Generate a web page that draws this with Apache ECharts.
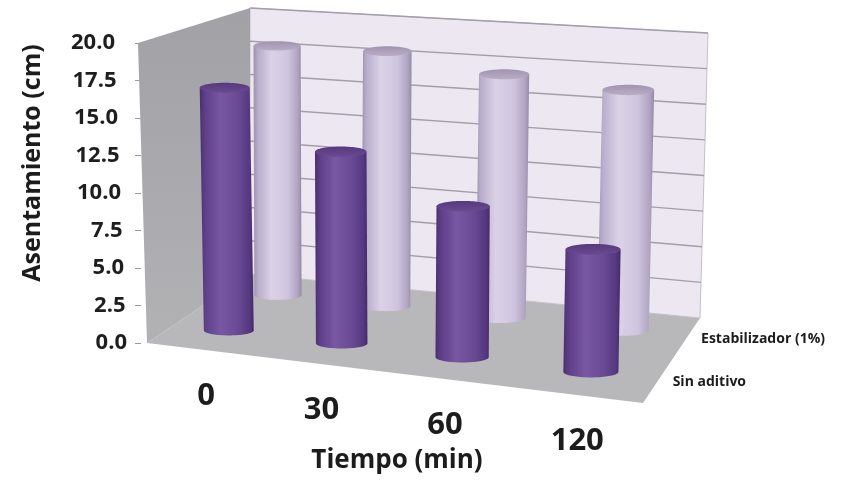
<!DOCTYPE html>
<html>
<head>
<meta charset="utf-8">
<script src="https://cdn.jsdelivr.net/npm/echarts@6/dist/echarts.min.js"></script>
<style>
  html, body { margin: 0; padding: 0; background: #ffffff; }
  #chart { width: 848px; height: 485px; }
</style>
</head>
<body>
<div id="chart"></div>
<script>
// ---- data ----
const categories = ['0', '30', '60', '120'];
const seriesNames = ['Sin aditivo', 'Estabilizador (1%)'];
const sinAditivo = [16.5, 12.8, 9.9, 7.9];
const estabilizador = [18.0, 18.1, 17.0, 16.5];
const yTicks = [0, 2.5, 5, 7.5, 10, 12.5, 15, 17.5, 20];
const yAxisTitle = 'Asentamiento (cm)';
const xAxisTitle = 'Tiempo (min)';

// ---- 3D box layout ----
// floor corners on screen: front-left, front-right, back-right, back-left
const FLOOR = [[147, 343], [643, 403], [700, 318], [250, 274]];
// vertical scale relative to the front-left edge, and lean (px per unit) at those corners
const VSCALE = [1, 16.1 / 15, 14.25 / 15, 13.3 / 15];
const LEAN = [-0.45, 0.35, 0.4, 0];
// depth position of each series row (0 = front, 1 = back)
const ROW_W = [0.25, 0.75];
const R0 = 25.3;
const FONT = 'Open Sans';

function makeHomography(q) {
  const [x0, y0] = q[0], [x1, y1] = q[1], [x2, y2] = q[2], [x3, y3] = q[3];
  const dx1 = x1 - x2, dx2 = x3 - x2, dx3 = x0 - x1 + x2 - x3;
  const dy1 = y1 - y2, dy2 = y3 - y2, dy3 = y0 - y1 + y2 - y3;
  const det = dx1 * dy2 - dx2 * dy1;
  const g = (dx3 * dy2 - dx2 * dy3) / det;
  const h = (dx1 * dy3 - dx3 * dy1) / det;
  return { a: x1 - x0 + g * x1, b: x3 - x0 + h * x3, c: x0,
           d: y1 - y0 + g * y1, e: y3 - y0 + h * y3, f: y0, g, h };
}
const H = makeHomography(FLOOR);

function den(u, w) { return H.g * u + H.h * w + 1; }
function floorPt(u, w) {
  const k = den(u, w);
  return [(H.a * u + H.b * w + H.c) / k, (H.d * u + H.e * w + H.f) / k];
}
function bilerp(arr, u, w) {
  return arr[0] * (1 - u) * (1 - w) + arr[1] * u * (1 - w) + arr[2] * u * w + arr[3] * (1 - u) * w;
}
// point at category position u, depth w and value v, using the value axis scale
function project(api, u, w, v) {
  const p = floorPt(u, w);
  const dy = api.coord([0, v])[1] - api.coord([0, 0])[1];
  return [p[0] + bilerp(LEAN, u, w) * v, p[1] + dy * bilerp(VSCALE, u, w)];
}
function catU(params, api, idx) {
  const cs = params.coordSys;
  return (api.coord([idx, 0])[0] - cs.x) / cs.width;
}

const LG = echarts.graphic.LinearGradient;
const PALETTES = [
  { // dark purple
    body: [[0, '#4b2f70'], [0.1, '#5e3f88'], [0.38, '#7857a3'], [0.7, '#6a4a95'], [0.92, '#553880'], [1, '#45296a']],
    top: [[0, '#56387e'], [1, '#6a4b93']]
  },
  { // light lavender
    body: [[0, '#9e92ae'], [0.1, '#b9aecb'], [0.38, '#dbd2e8'], [0.72, '#cfc4de'], [0.92, '#b0a4c2'], [1, '#958aa5']],
    top: [[0, '#a093b0'], [1, '#b8adc6']]
  }
];

function stops(list) { return list.map(s => ({ offset: s[0], color: s[1] })); }

function makeRenderCylinder(row) {
  return function (params, api) {
    const idx = api.value(0);
    const v = api.value(1);
    const u = catU(params, api, idx);
    const w = ROW_W[row];
    const b = project(api, u, w, 0);
    const t = project(api, u, w, v);
    const rx = R0 / den(u, w);
    const ry = rx * 0.2;
    const N = 40;
    const body = [[t[0] - rx, t[1]]];
    for (let i = 0; i <= N; i++) {
      const a = Math.PI - Math.PI * i / N;
      body.push([b[0] + rx * Math.cos(a), b[1] + ry * Math.sin(a)]);
    }
    body.push([t[0] + rx, t[1]]);
    const cap = [];
    for (let i = 0; i < 2 * N; i++) {
      const a = 2 * Math.PI * i / (2 * N);
      cap.push([t[0] + rx * Math.cos(a), t[1] + ry * Math.sin(a)]);
    }
    const pal = PALETTES[row];
    return {
      type: 'group',
      children: [
        { type: 'polygon', shape: { points: body },
          style: { fill: new LG(0, 0, 1, 0, stops(pal.body)) } },
        { type: 'polygon', shape: { points: cap },
          style: { fill: new LG(0, 0, 0, 1, stops(pal.top)) } }
      ]
    };
  };
}

function renderFrame(params, api) {
  const P = (u, w, v) => project(api, u, w, v);
  const top = yTicks[yTicks.length - 1];
  const children = [];
  // floor
  children.push({ type: 'polygon',
    shape: { points: [P(0, 0, 0), P(1, 0, 0), P(1, 1, 0), P(0, 1, 0)] },
    style: { fill: '#b8b7ba' } });
  // back wall
  children.push({ type: 'polygon',
    shape: { points: [P(0, 1, 0), P(1, 1, 0), P(1, 1, top), P(0, 1, top)] },
    style: { fill: '#ece7f0', stroke: '#c4bfca', lineWidth: 1 } });
  // gridlines on the back wall
  yTicks.forEach(v => {
    if (v === 0) return;
    const a = P(0, 1, v), c = P(1, 1, v);
    children.push({ type: 'line', shape: { x1: a[0], y1: a[1], x2: c[0], y2: c[1] },
      style: { stroke: '#a39eaa', lineWidth: 1.4 } });
  });
  // left wall
  children.push({ type: 'polygon',
    shape: { points: [P(0, 0, 0), P(0, 1, 0), P(0, 1, top), P(0, 0, top)] },
    style: { fill: new LG(0, 0, 0, 1, [{ offset: 0, color: '#a1a1a6' }, { offset: 1, color: '#b2b2b5' }]) } });
  // category labels along the front edge
  categories.forEach((c, i) => {
    const p = P(catU(params, api, i), 0, 0);
    children.push({ type: 'text', style: {
      text: c, x: p[0] + 4, y: p[1] + 47, fill: '#1c1c1c',
      font: 'bold 31px "' + FONT + '"',
      align: 'center', verticalAlign: 'middle', textAlign: 'center', textVerticalAlign: 'middle' } });
  });
  // series labels along the right edge of the floor
  seriesNames.forEach((n, j) => {
    const p = P(1, ROW_W[j], 0);
    children.push({ type: 'text', style: {
      text: n, x: p[0] + 14, y: p[1] + 2, fill: '#1c1c1c',
      font: 'bold 14px "' + FONT + '"',
      align: 'left', verticalAlign: 'middle', textAlign: 'left', textVerticalAlign: 'middle' } });
  });
  return { type: 'group', children };
}

const chart = echarts.init(document.getElementById('chart'), null, { renderer: 'canvas' });
const rich = {};
yTicks.forEach((t, k) => {
  rich['p' + k] = { padding: [0, 1.5 * k, 0, 0], fontSize: 22, fontWeight: 'bold',
                    fontFamily: FONT, color: '#1e1e1e' };
});

chart.setOption({
  animation: false,
  backgroundColor: '#ffffff',
  grid: { left: 141, top: 43, width: 512, height: 300 },
  xAxis: {
    type: 'category',
    data: categories,
    name: xAxisTitle,
    nameLocation: 'middle',
    nameGap: 105,
    nameTextStyle: { fontSize: 26, fontWeight: 'bold', fontFamily: FONT, color: '#1c1c1c' },
    axisLine: { show: false },
    axisTick: { show: false },
    axisLabel: { show: false },
    splitLine: { show: false }
  },
  yAxis: {
    type: 'value',
    min: 0,
    max: 20,
    interval: 2.5,
    axisLine: { show: false },
    axisTick: { show: true, length: 6, lineStyle: { color: '#9a9a9a' } },
    splitLine: { show: false },
    axisLabel: {
      margin: 14,
      formatter: function (val) {
        const k = Math.round(val / 2.5);
        return '{p' + k + '|' + val.toFixed(1) + '}';
      },
      rich: rich
    }
  },
  graphic: [{
    type: 'text',
    x: 33, y: 163,
    rotation: Math.PI / 2,
    style: {
      text: yAxisTitle, fill: '#1c1c1c',
      font: 'bold 25px "' + FONT + '"',
      align: 'center', verticalAlign: 'middle', textAlign: 'center', textVerticalAlign: 'middle'
    }
  }],
  series: [
    { type: 'custom', name: 'frame', data: [[0, 0]], renderItem: renderFrame, silent: true, z: 1 },
    { type: 'custom', name: seriesNames[1], data: estabilizador.map((v, i) => [i, v]),
      renderItem: makeRenderCylinder(1), z: 2 },
    { type: 'custom', name: seriesNames[0], data: sinAditivo.map((v, i) => [i, v]),
      renderItem: makeRenderCylinder(0), z: 3 }
  ]
});
</script>
</body>
</html>
